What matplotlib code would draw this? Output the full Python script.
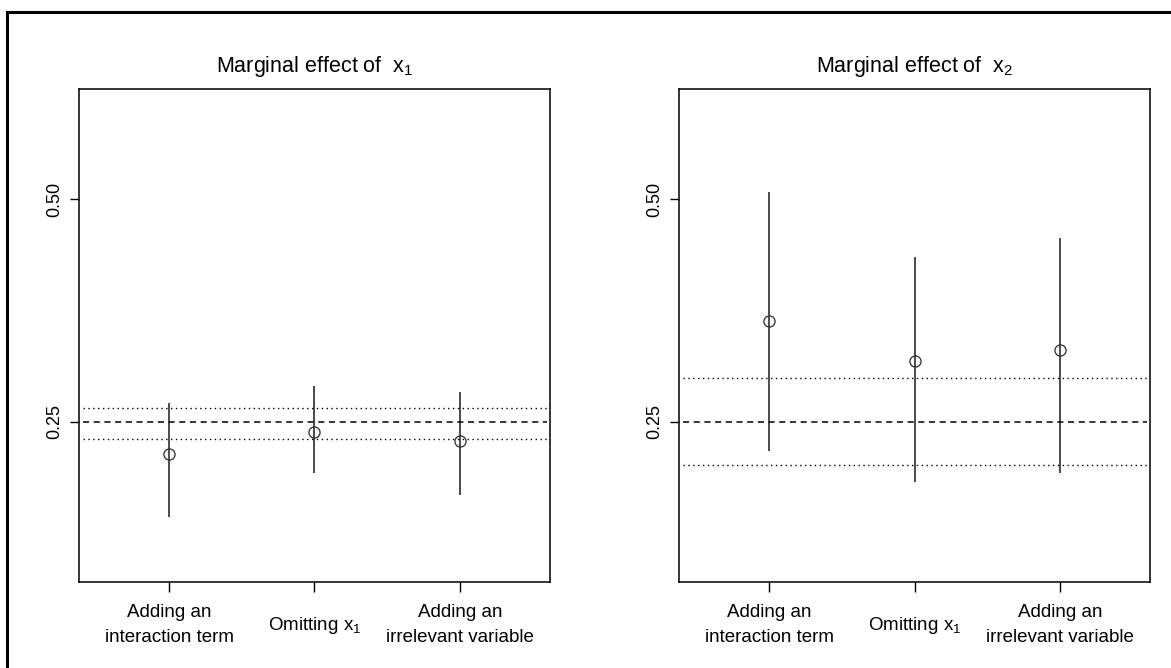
import matplotlib
matplotlib.use("Agg")
import matplotlib.pyplot as plt
from matplotlib.patches import Rectangle

plt.rcParams['font.family'] = ['Liberation Sans', 'DejaVu Sans']
plt.rcParams['mathtext.fontset'] = 'custom'
plt.rcParams['mathtext.rm'] = 'Liberation Sans'
plt.rcParams['mathtext.it'] = 'Liberation Sans'

# data
labels = ["Adding an\ninteraction term", "Omitting $\\mathregular{x_1}$", "Adding an\nirrelevant variable"]
titles = ["Marginal effect of  $\\mathregular{x_1}$", "Marginal effect of  $\\mathregular{x_2}$"]
true_value = 0.25

x1_est = [0.2137, 0.2388, 0.2290]
x1_low = [0.1436, 0.1923, 0.1676]
x1_high = [0.2710, 0.2904, 0.2837]
x1_band = [0.2309, 0.2654]

x2_est = [0.3635, 0.3178, 0.3309]
x2_low = [0.2174, 0.1822, 0.1923]
x2_high = [0.5077, 0.4350, 0.4564]
x2_band = [0.2013, 0.2998]

panels = [(x1_est, x1_low, x1_high, x1_band), (x2_est, x2_low, x2_high, x2_band)]

fig = plt.figure(figsize=(11.71, 6.68), dpi=100)
# outer frame (only top and left edges visible in the original crop)
fig.patches.append(Rectangle((7/1171, -0.1), 1.2, 1 - 12/668 + 0.1, transform=fig.transFigure,
                             fill=False, edgecolor='black', linewidth=2.2))

lefts = [79/1171, 679/1171]
pos = [i + 1 for i in range(3)]
for k, (est, low, high, band) in enumerate(panels):
    ax = fig.add_axes([lefts[k], 1 - 582/668, 471/1171, 493/668])
    ax.vlines(pos, low, high, color='#1a1a1a', linewidth=1.1)
    ax.plot(pos, est, 'o', markerfacecolor='none', markeredgecolor='#333333',
            markersize=8, markeredgewidth=0.95, linestyle='none')
    ax.hlines(true_value, 0.41, 3.6, color='black', linewidth=1.1, linestyles=(0, (4, 3)))
    ax.hlines(band, 0.41, 3.6, color='black', linewidth=1.0, linestyles=(0, (1, 2.5)))
    ax.set_xlim(0.38, 3.62)
    ax.set_ylim(0.07, 0.624)
    ax.set_yticks([0.25, 0.50])
    ax.set_yticklabels(["0.25", "0.50"])
    ax.set_xticks(pos)
    ax.set_xticklabels(labels, fontsize=13.5, linespacing=1.65)
    for lab in ax.get_xticklabels():
        lab.set_verticalalignment('center')
    ax.tick_params(axis='x', length=7, width=1, pad=24, color='black')
    ax.tick_params(axis='y', length=6.5, width=1, pad=5, labelsize=13, labelrotation=90)
    for lab in ax.get_yticklabels():
        lab.set_verticalalignment('center')
    for s in ax.spines.values():
        s.set_linewidth(1.1)
    ax.set_title(titles[k], fontsize=15.5, pad=12)

fig.savefig("out.png", dpi=100)
